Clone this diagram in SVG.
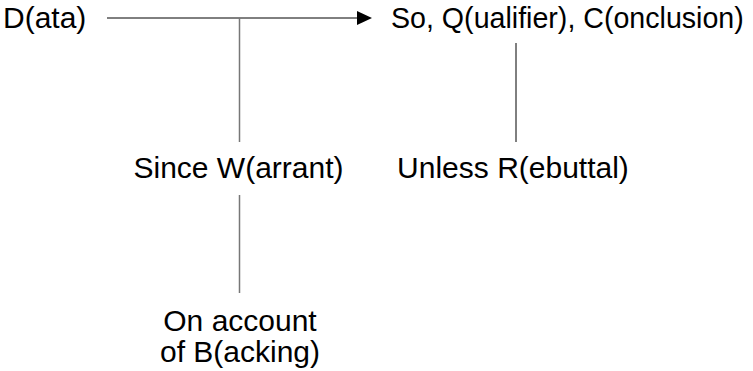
<svg xmlns="http://www.w3.org/2000/svg" width="753" height="371" viewBox="0 0 753 371">
<defs>
<style>
text{font-family:"Liberation Sans",Arial,sans-serif;font-size:30px;fill:#000}
.c{text-anchor:middle}
.s{font-size:28.6px}
.ln{stroke:#000;stroke-width:1;fill:none}
.gl{stroke:#777;stroke-width:1.5;fill:none}
.ah{fill:#000}
</style>
</defs>
<g id="connectors">
<line class="ln" x1="107" y1="18" x2="360" y2="18"/>
<polygon class="ah" points="357,11 372,18 357,25"/>
<line class="gl" x1="239.5" y1="18" x2="239.5" y2="142"/>
<line class="gl" x1="239.5" y1="195" x2="239.5" y2="293"/>
<line class="ln" x1="516" y1="43" x2="516" y2="142"/>
</g>
<g id="data"><text x="3" y="28">D(ata)</text></g>
<g id="conclusion"><text class="s" x="391" y="28">So, Q(ualifier), C(onclusion)</text></g>
<g id="warrant"><text class="c" x="238.5" y="178">Since W(arrant)</text></g>
<g id="rebuttal"><text class="c" x="513" y="178">Unless R(ebuttal)</text></g>
<g id="backing"><text class="c" x="240" y="331">On account</text><text class="c" x="240" y="362">of B(acking)</text></g>
</svg>
